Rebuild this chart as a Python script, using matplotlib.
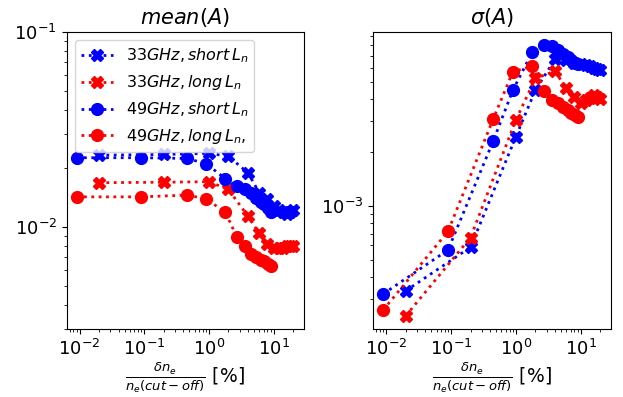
import numpy as np
from matplotlib import pyplot as plt

# x values (delta n_e / n_e(cut-off) in %)
x_33 = [0.02, 0.2, 1, 2, 4, 6, 8, 10, 12, 14, 16, 18, 20]
x_49 = [0.009, 0.09, 0.45, 0.9, 1.8, 2.7, 3.6, 4.5, 5.4, 6.3, 7.2, 8.1, 9]

# mean(A)
mean_33_short = [0.0234, 0.0236, 0.0239, 0.0231, 0.0190, 0.0150, 0.0139, 0.0129, 0.0123, 0.0119, 0.0117, 0.0120, 0.0123]
mean_33_long = [0.0169, 0.0170, 0.0171, 0.0156, 0.0114, 0.0093, 0.00815, 0.00784, 0.0078, 0.00785, 0.0080, 0.0080, 0.0080]
mean_49_short = [0.0227, 0.0227, 0.0225, 0.0212, 0.0177, 0.0162, 0.0156, 0.0149, 0.0141, 0.0135, 0.0131, 0.0126, 0.0120]
mean_49_long = [0.0143, 0.0143, 0.0146, 0.0140, 0.0119, 0.0089, 0.0080, 0.0073, 0.0070, 0.0068, 0.0067, 0.0065, 0.0063]

# sigma(A)
std_33_short = [3.33e-4, 5.86e-4, 2.45e-3, 4.48e-3, 6.67e-3, 6.6e-3, 6.4e-3, 6.3e-3, 6.2e-3, 6.1e-3, 6.0e-3, 5.9e-3, 5.8e-3]
std_33_long = [2.41e-4, 6.64e-4, 3.04e-3, 5.22e-3, 5.73e-3, 4.6e-3, 4.1e-3, 3.8e-3, 3.95e-3, 4.05e-3, 4.2e-3, 4.1e-3, 4.0e-3]
std_49_short = [3.2e-4, 5.66e-4, 2.33e-3, 4.48e-3, 7.36e-3, 8.0e-3, 7.95e-3, 7.5e-3, 7.2e-3, 6.9e-3, 6.6e-3, 6.4e-3, 6.3e-3]
std_49_long = [2.6e-4, 7.2e-4, 3.1e-3, 5.7e-3, 6.1e-3, 4.45e-3, 3.95e-3, 3.78e-3, 3.61e-3, 3.46e-3, 3.34e-3, 3.24e-3, 3.15e-3]

labels = [r'$33GHz, short\,L_n$', r'$33GHz, long\,L_n$',
          r'$49GHz, short\,L_n$', r'$49GHz, long\,L_n,$']
xlabel = r'$\frac{\delta n_e}{n_e(cut-off)}$ [%]'

fig = plt.figure(figsize=(6.23, 3.97), dpi=100)
ax1 = fig.add_axes([0.107, 0.171, 0.381, 0.748])
ax2 = fig.add_axes([0.599, 0.171, 0.382, 0.748])

kw = dict(ls=':', lw=2, ms=8.5)

ax1.plot(x_33, mean_33_short, 'bX', label=labels[0], **kw)
ax1.plot(x_33, mean_33_long, 'rX', label=labels[1], **kw)
ax1.plot(x_49, mean_49_short, 'bo', label=labels[2], **kw)
ax1.plot(x_49, mean_49_long, 'ro', label=labels[3], **kw)

ax2.plot(x_33, std_33_short, 'bX', **kw)
ax2.plot(x_33, std_33_long, 'rX', **kw)
ax2.plot(x_49, std_49_short, 'bo', **kw)
ax2.plot(x_49, std_49_long, 'ro', **kw)

for ax in (ax1, ax2):
    ax.set_xscale('log')
    ax.set_yscale('log')
    ax.set_xlim(10**-2.2, 10**1.47)
    ax.set_xlabel(xlabel, fontsize=13.5, labelpad=1)
    ax.tick_params(labelsize=13)

ax1.set_ylim(3e-3, 1e-1)
ax2.set_ylim(2.03e-4, 9.5e-3)

ax1.set_title(r'$mean(A)$', fontsize=15)
ax2.set_title(r'$\sigma(A)$', fontsize=15)

ax1.legend(loc='upper left', fontsize=11.5)

plt.savefig('out.png')
